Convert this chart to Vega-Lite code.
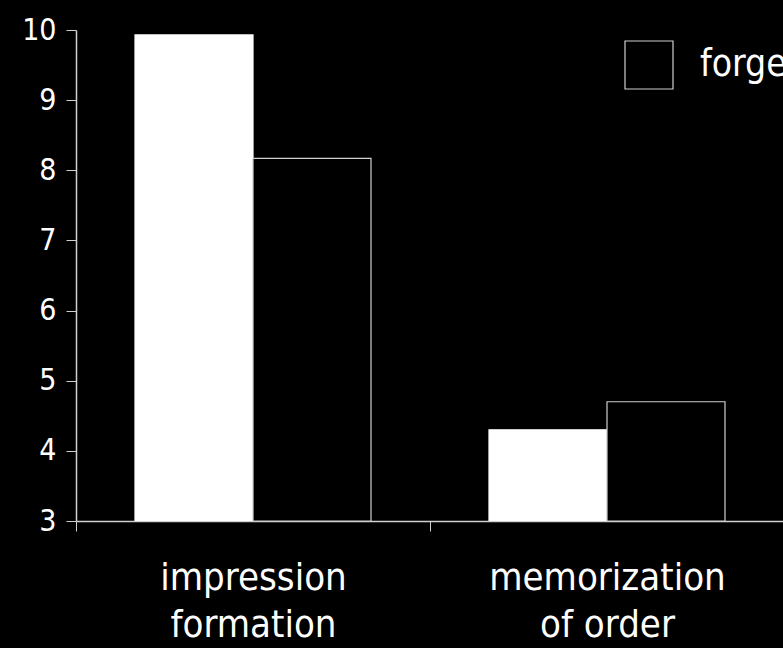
{
  "$schema": "https://vega.github.io/schema/vega-lite/v6.json",
  "autosize": {"type": "none"},
  "padding": {"left": 76, "top": 30, "right": 0, "bottom": 127},
  "width": 708,
  "height": 491,
  "background": "black",
  "config": {
    "view": {"stroke": null},
    "font": "DejaVu Sans Condensed"
  },
  "data": {
    "values": [
      {"task": "impression|formation", "condition": "remember", "value": 9.93},
      {"task": "impression|formation", "condition": "forget", "value": 8.17},
      {"task": "memorization|of order", "condition": "remember", "value": 4.3},
      {"task": "memorization|of order", "condition": "forget", "value": 4.7}
    ]
  },
  "mark": {"type": "bar", "strokeWidth": 1.2, "clip": true},
  "encoding": {
    "x": {
      "field": "task",
      "type": "nominal",
      "sort": null,
      "scale": {"paddingInner": 0.3333, "paddingOuter": 0.1667},
      "axis": {
        "title": null,
        "labelAngle": 0,
        "labelExpr": "split(datum.label, '|')",
        "labelColor": "white",
        "labelFontSize": 38,
        "labelLineHeight": 47,
        "labelPadding": 28,
        "labelBaseline": "top",
        "labelLimit": 0,
        "tickOffset": -177,
        "labelOffset": 177,
        "tickSize": 10,
        "tickColor": "#d0d0d0",
        "domainColor": "#d0d0d0",
        "domainWidth": 1.5
      }
    },
    "xOffset": {"field": "condition", "type": "nominal", "sort": ["remember", "forget"], "scale": {"paddingInner": 0, "paddingOuter": 0}},
    "y": {
      "field": "value",
      "type": "quantitative",
      "scale": {"domain": [3, 10], "zero": false, "nice": false},
      "axis": {
        "title": null,
        "values": [3, 4, 5, 6, 7, 8, 9, 10],
        "labelColor": "white",
        "labelFontSize": 30,
        "labelPadding": 10,
        "tickSize": 10,
        "tickColor": "#d0d0d0",
        "domainColor": "#d0d0d0",
        "domainWidth": 1.5,
        "grid": false
      }
    },
    "y2": {"datum": 3},
    "fill": {
      "field": "condition",
      "type": "nominal",
      "scale": {"domain": ["remember", "forget"], "range": ["white", "black"]},
      "legend": {
        "values": ["forget"],
        "title": null,
        "orient": "none",
        "legendX": 548,
        "legendY": 10,
        "symbolType": "square",
        "symbolSize": 2304,
        "symbolStrokeColor": "#d0d0d0",
        "symbolStrokeWidth": 1.2,
        "labelColor": "white",
        "labelFontSize": 37,
        "labelOffset": 26,
        "labelLimit": 0
      }
    },
    "stroke": {
      "field": "condition",
      "type": "nominal",
      "scale": {"domain": ["remember", "forget"], "range": ["white", "#d0d0d0"]},
      "legend": null
    }
  }
}
